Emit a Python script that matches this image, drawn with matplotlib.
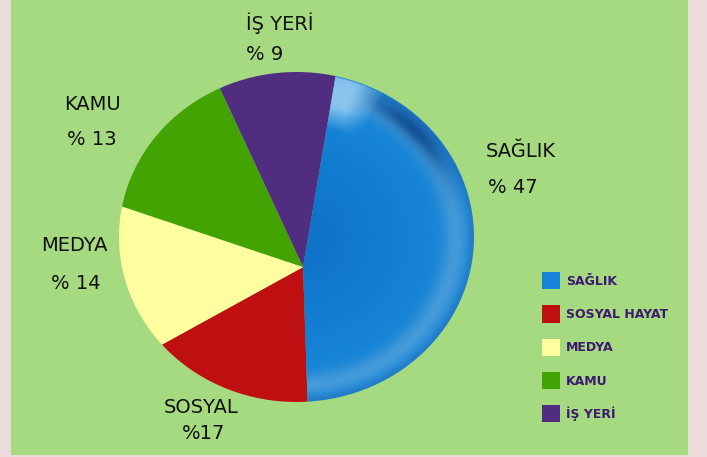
import numpy as np
import matplotlib
matplotlib.use("Agg")
import matplotlib.pyplot as plt
from matplotlib.patches import Rectangle, Patch, Circle

# ---- data ----
categories = ['SAĞLIK', 'SOSYAL HAYAT', 'MEDYA', 'KAMU', 'İŞ YERİ']
slice_names = ['SAĞLIK', 'SOSYAL', 'MEDYA', 'KAMU', 'İŞ YERİ']
values = [47, 17, 14, 13, 9]
pct_labels = ['% 47', '%17', '% 14', '% 13', '% 9']
colors = ['#1683d6', '#be1010', '#ffffa0', '#43a303', '#512d7f']

W, H = 707, 457
fig = plt.figure(figsize=(W / 100, H / 100), dpi=100)
fig.patch.set_facecolor('#ebdcdb')
bg = Rectangle((11 / W, 1 - 455 / H), (688 - 11) / W, 455 / H,
               transform=fig.transFigure, facecolor='#a6da80',
               edgecolor='none', zorder=-10)
fig.patches.append(bg)

# pie axes (pixel box x 119-474, y 72-402)
x0, x1, y0, y1 = 119, 474, 72, 402
ax = fig.add_axes([x0 / W, 1 - y1 / H, (x1 - x0) / W, (y1 - y0) / H], zorder=1)
ax.set_facecolor('none')
# apex of the slices sits below/right of the outline centre
apex = (0.037, -0.182)
wedges, _ = ax.pie(values, colors=colors, startangle=81, counterclock=False,
                   radius=1.6, center=apex, wedgeprops=dict(linewidth=0))
ax.set_aspect('auto')
ax.set_xlim(-1, 1)
ax.set_ylim(-1, 1)
outline = Circle((0, 0), 1.0, facecolor='none', edgecolor='none')
ax.add_patch(outline)
for w in wedges:
    w.set_clip_on(True)
    w.set_clip_path(outline)

# shading on the first (blue) slice
n = 500
xs = np.linspace(-1, 1, n)
X, Y = np.meshgrid(xs, xs)
R = np.sqrt(X ** 2 + Y ** 2)
T = np.degrees(np.arctan2(Y, X))
base_in = np.array([14, 112, 198]) / 255
base_out = np.array([22, 132, 214]) / 255
t = np.clip(R / 0.75, 0, 1)[..., None]
img = base_in * (1 - t) + base_out * t
rim = np.exp(-((R - 0.90) / 0.07) ** 2)[..., None]
img = img * (1 - rim * 0.8) + np.array([80, 160, 218]) / 255 * rim * 0.8
edge = np.clip((R - 0.96) / 0.04, 0, 1)[..., None]
img = img * (1 - edge * 0.6) + np.array([50, 110, 180]) / 255 * edge * 0.6
win = np.exp(-((T - 45) / 20) ** 2)
band = (np.exp(-((R - 0.93) / 0.06) ** 2) * win)[..., None]
img = img * (1 - band * 0.85) + np.array([12, 70, 140]) / 255 * band * 0.85
hwin = np.clip((T - 60) / 10, 0, 1) * np.clip((R - 0.68) / 0.14, 0, 1)
hl = hwin[..., None] * 0.85
img = img * (1 - hl) + np.array([150, 205, 242]) / 255 * hl
alpha = np.clip((1.0 - R) * 150, 0, 1)[..., None]
rgba = np.concatenate([np.clip(img, 0, 1), alpha], axis=2)
im = ax.imshow(rgba, extent=(-1, 1, -1, 1), origin='lower',
               zorder=3, interpolation='bilinear')
im.set_clip_path(wedges[0])
ax.set_aspect('auto')
ax.set_xlim(-1, 1)
ax.set_ylim(-1, 1)
ax.axis('off')

# slice labels (pixel positions of top-left)
name_pos = [(486, 142), (164, 398), (41, 236), (64, 95), (246, 12)]
pct_pos = [(488, 178), (182, 424), (51, 274), (67, 130), (246, 45)]
for name, pct, (nx, ny), (px, py) in zip(slice_names, pct_labels, name_pos, pct_pos):
    fig.text(nx / W, 1 - ny / H, name, fontsize=14, color='#111111',
             ha='left', va='top', family='DejaVu Sans')
    fig.text(px / W, 1 - py / H, pct, fontsize=14, color='#111111',
             ha='left', va='top', family='DejaVu Sans')

# legend
handles = [Patch(facecolor=c, edgecolor='none') for c in colors]
leg = fig.legend(handles, categories, loc='upper left',
                 bbox_to_anchor=(542 / W, 1 - 272 / H), frameon=False,
                 prop=dict(size=9, weight='bold'), handlelength=1.45,
                 handleheight=1.75, handletextpad=0.45, labelspacing=1.28,
                 borderaxespad=0, borderpad=0)
for txt in leg.get_texts():
    txt.set_color('#3d1a70')

fig.savefig('out.png', dpi=100, facecolor=fig.get_facecolor())
